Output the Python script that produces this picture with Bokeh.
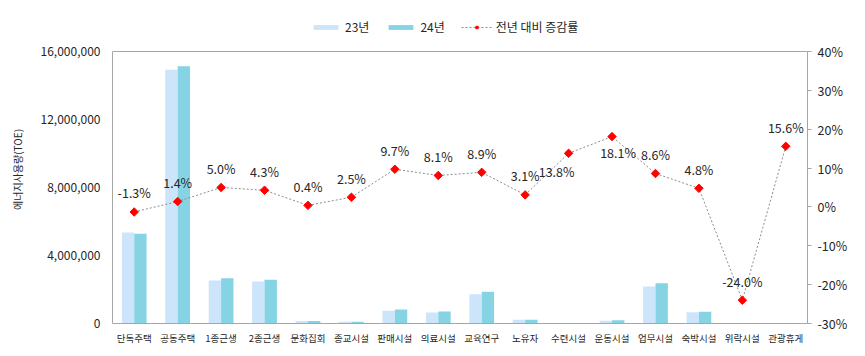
import math
from bokeh.plotting import figure
from bokeh.models import (Range1d, FactorRange, LinearAxis, FixedTicker, NumeralTickFormatter,
                          PrintfTickFormatter, ColumnDataSource, LabelSet, Legend, LegendItem, Span)
from bokeh.core.properties import value
from bokeh.transform import dodge
from bokeh.embed import file_html
from bokeh.resources import INLINE

categories = ["단독주택", "공동주택", "1종근생", "2종근생", "문화집회", "종교시설", "판매시설", "의료시설",
              "교육연구", "노유자", "수련시설", "운동시설", "업무시설", "숙박시설", "위락시설", "관광휴게"]
usage_23 = [5350000, 14920000, 2530000, 2470000, 150000, 100000, 750000, 650000,
            1720000, 220000, 22000, 160000, 2180000, 660000, 30000, 20000]
usage_24 = [5280000, 15130000, 2660000, 2580000, 151000, 103000, 823000, 703000,
            1870000, 227000, 25000, 189000, 2370000, 692000, 23000, 23000]
growth = [-1.3, 1.4, 5.0, 4.3, 0.4, 2.5, 9.7, 8.1, 8.9, 3.1, 13.8, 18.1, 8.6, 4.8, -24.0, 15.6]
left_ticks = [0, 4000000, 8000000, 12000000, 16000000]
right_ticks = [-30, -20, -10, 0, 10, 20, 30, 40]

# label placement (style): vertical / horizontal pixel offsets of the % labels
label_dy = [19, 19, 19, 19, 19, 19, 19, 19, 19, 19, -18, -16, 19, 19, 19, 19]
label_dx = [0, 0, 0, 0, 0, 0, 0, 0, 0, 0, -12, 6, 0, 0, 0, 0]

FONT = "Noto Sans CJK KR"
C23 = "#cce5fb"
C24 = "#86d3e3"
GRAY = "#a6a6a6"
TXT = "#262626"

# plot area: axes box spans 272 px; extra 36 px above it hold the legend
BOX_H, TOP_EXTRA = 272, 36
L_MIN, L_MAX = left_ticks[0], left_ticks[-1]
R_MIN, R_MAX = right_ticks[0], right_ticks[-1]
ext = (BOX_H + TOP_EXTRA) / BOX_H

src = ColumnDataSource(dict(cat=categories, u23=usage_23, u24=usage_24, g=growth,
                            glab=[f"{v:.1f}%" for v in growth], dy=label_dy, dx=label_dx))

p = figure(width=857, height=348, x_range=FactorRange(*categories, range_padding=0),
           y_range=Range1d(L_MIN, L_MIN + (L_MAX - L_MIN) * ext),
           output_backend="svg", toolbar_location=None,
           min_border_left=112, min_border_right=50, min_border_top=15, min_border_bottom=25)
p.x_range.range_padding = 0
p.extra_y_ranges = {"pct": Range1d(R_MIN, R_MIN + (R_MAX - R_MIN) * ext)}

p.outline_line_color = None
p.xgrid.grid_line_color = None
p.ygrid.grid_line_color = None
p.background_fill_color = "white"
p.border_fill_color = "white"

bw = 0.285
r23 = p.vbar(x=dodge("cat", -bw / 2, range=p.x_range), top="u23", width=bw, source=src,
             fill_color=C23, line_color=None)
r24 = p.vbar(x=dodge("cat", bw / 2, range=p.x_range), top="u24", width=bw, source=src,
             fill_color=C24, line_color=None)

rl = p.line(x="cat", y="g", source=src, y_range_name="pct", line_color="#8c8c8c",
            line_width=1, line_dash="2 2")
rs = p.scatter(x="cat", y="g", source=src, y_range_name="pct", marker="square",
               angle=math.pi / 4, size=6, fill_color="#ff0000", line_color="#ff0000")

labels = LabelSet(x="cat", y="g", text="glab", source=src, y_range_name="pct",
                  x_offset="dx", y_offset="dy", text_align="center", text_baseline="middle",
                  text_font=value(FONT), text_font_size="12.5px", text_color=TXT)
p.add_layout(labels)

# top edge of the axes box
p.add_layout(Span(location=L_MAX, dimension="width", line_color=GRAY, line_width=1))

# left axis
ya = p.yaxis[0]
ya.ticker = FixedTicker(ticks=left_ticks)
ya.bounds = (L_MIN, L_MAX)
ya.formatter = NumeralTickFormatter(format="0,0")
ya.major_tick_out = 0
ya.major_tick_in = 0
ya.minor_tick_out = 0
ya.minor_tick_in = 0
ya.axis_line_color = GRAY
ya.major_label_standoff = 12
ya.major_label_text_font = FONT
ya.major_label_text_font_size = "12px"
ya.major_label_text_color = TXT

# outer left axis that only carries the title
ta = LinearAxis(ticker=FixedTicker(ticks=[]), axis_label="에너지사용량(TOE)")
ta.axis_line_color = None
ta.major_tick_out = 0
ta.major_tick_in = 0
ta.minor_tick_out = 0
ta.minor_tick_in = 0
ta.major_label_standoff = 0
ta.axis_label_standoff = 13
ta.axis_label_text_font = FONT
ta.axis_label_text_font_size = "10px"
ta.axis_label_text_font_style = "normal"
ta.axis_label_text_color = TXT
p.add_layout(ta, "left")

# right axis
ra = LinearAxis(y_range_name="pct", ticker=FixedTicker(ticks=right_ticks),
                formatter=PrintfTickFormatter(format="%d%%"), bounds=(R_MIN, R_MAX))
ra.axis_line_color = GRAY
ra.major_tick_line_color = GRAY
ra.major_tick_out = 4
ra.major_tick_in = 0
ra.minor_tick_out = 0
ra.minor_tick_in = 0
ra.major_label_standoff = 6
ra.major_label_text_font = FONT
ra.major_label_text_font_size = "12.5px"
ra.major_label_text_color = TXT
p.add_layout(ra, "right")

# bottom axis
xa = p.xaxis[0]
xa.axis_line_color = GRAY
xa.major_tick_out = 0
xa.major_tick_in = 0
xa.major_label_standoff = 7
xa.major_label_text_font = FONT
xa.major_label_text_font_size = "9.5px"
xa.major_label_text_color = TXT

legend = Legend(items=[LegendItem(label="23년", renderers=[r23]),
                       LegendItem(label="24년", renderers=[r24]),
                       LegendItem(label="전년 대비 증감률", renderers=[rl, rs])],
                orientation="horizontal", location=(198, 288),
                glyph_width=31, glyph_height=6, label_standoff=4, spacing=16,
                padding=0, margin=0, border_line_color=None, background_fill_alpha=0,
                label_text_font=FONT, label_text_font_size="12px", label_text_color=TXT,
                label_height=14)
p.add_layout(legend)

open("out.html", "w").write(file_html(p, INLINE))
